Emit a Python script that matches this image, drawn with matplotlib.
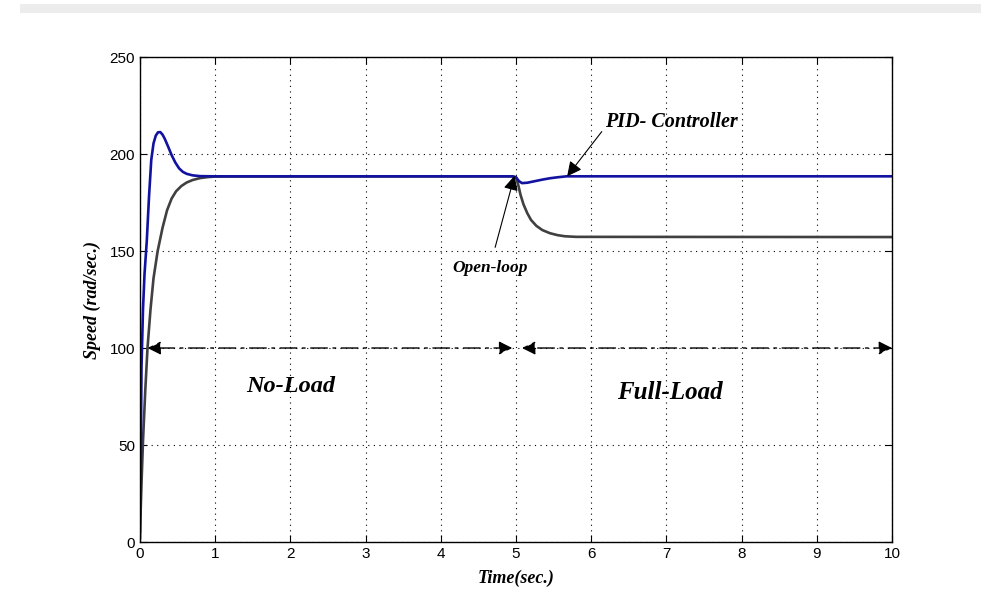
import matplotlib
matplotlib.use("Agg")
import matplotlib.pyplot as plt
from matplotlib.patches import Rectangle

# PID controller response (rad/sec)
t_pid = [0.0, 0.01, 0.02, 0.04, 0.06, 0.09, 0.12, 0.15, 0.18, 0.21, 0.24, 0.27,
         0.3, 0.33, 0.37, 0.42, 0.47, 0.52, 0.57, 0.62, 0.7, 0.8, 1.0, 4.95,
         5.0, 5.04, 5.08, 5.15, 5.25, 5.35, 5.45, 5.55, 5.67, 10.0]
w_pid = [2, 40, 90, 120, 138, 155, 178, 197, 205.5, 209.5, 211.2, 211.3,
         210, 207.8, 204.2, 199.5, 195.6, 192.6, 190.8, 189.8, 189, 188.6, 188.5, 188.5,
         188, 186, 185, 185.2, 186, 186.8, 187.5, 188, 188.5, 188.5]

# open-loop response
t_ol = [0.0, 0.02, 0.04, 0.07, 0.1, 0.14, 0.18, 0.235, 0.3, 0.36, 0.42, 0.48,
        0.55, 0.62, 0.7, 0.8, 0.9, 1.0, 4.95, 5.0, 5.03, 5.06, 5.1, 5.15, 5.2,
        5.27, 5.35, 5.45, 5.55, 5.65, 5.8, 10.0]
w_ol = [5, 30, 52, 78, 100, 120, 136, 150, 162, 171, 177, 180.8,
        183.5, 185.3, 186.6, 187.6, 188.1, 188.4, 188.5, 188, 184, 179, 174, 169.5, 166,
        163, 160.8, 159.2, 158.2, 157.6, 157.3, 157.2]

xticks = list(range(0, 11))
yticks = [0, 50, 100, 150, 200, 250]

serif = dict(family="Liberation Serif", weight="bold", style="italic")

fig = plt.figure(figsize=(9.81, 6.06), dpi=100)
fig.add_artist(Rectangle((0.02, 1 - 13 / 606), 0.98, 9 / 606,
                         transform=fig.transFigure, color="#ececec", lw=0))
ax = fig.add_axes([0.1427, 0.1056, 0.7666, 0.8003])

ax.plot(t_ol, w_ol, color="#404040", lw=1.9)
ax.plot(t_pid, w_pid, color="#1212a0", lw=1.9)

ax.set_xlim(0, 10)
ax.set_ylim(0, 250)
ax.set_xticks(xticks)
ax.set_yticks(yticks)
ax.grid(True, color="black", linestyle=(0, (1, 4)), lw=0.8)
ax.tick_params(direction="in", top=True, right=True, length=5, labelsize=11)
for lab in ax.get_xticklabels() + ax.get_yticklabels():
    lab.set_family("Liberation Sans")
for sp in ax.spines.values():
    sp.set_linewidth(1.0)

ax.set_xlabel("Time(sec.)", fontsize=13, labelpad=6, **serif)
ax.set_ylabel("Speed (rad/sec.)", fontsize=13, labelpad=6, **serif)

# load regions
arrow = dict(arrowstyle="<|-|>", color="black", lw=1.0, linestyle=(0, (12, 4, 2, 4)),
             mutation_scale=20, shrinkA=0, shrinkB=0)
ax.annotate("", xy=(0.1, 100), xytext=(4.95, 100), arrowprops=arrow)
ax.annotate("", xy=(5.08, 100), xytext=(10.0, 100), arrowprops=arrow)
ax.text(2.0, 80, "No-Load", fontsize=17.5, ha="center", va="center", **serif)
ax.text(7.05, 77, "Full-Load", fontsize=18, ha="center", va="center", **serif)

# curve labels
pointer = dict(arrowstyle="-|>", color="black", lw=0.8, mutation_scale=22,
               shrinkA=0, shrinkB=0)
ax.annotate("Open-loop", xy=(4.98, 188.8), xytext=(4.65, 141.5), fontsize=12.5,
            ha="center", va="center", arrowprops=dict(pointer, shrinkA=7), **serif)
ax.annotate("PID- Controller", xy=(5.68, 188.5), xytext=(7.06, 216.5), fontsize=14.5,
            ha="center", va="center", arrowprops=dict(pointer, relpos=(0, 0.2)), **serif)

fig.savefig("out.png", dpi=100)
